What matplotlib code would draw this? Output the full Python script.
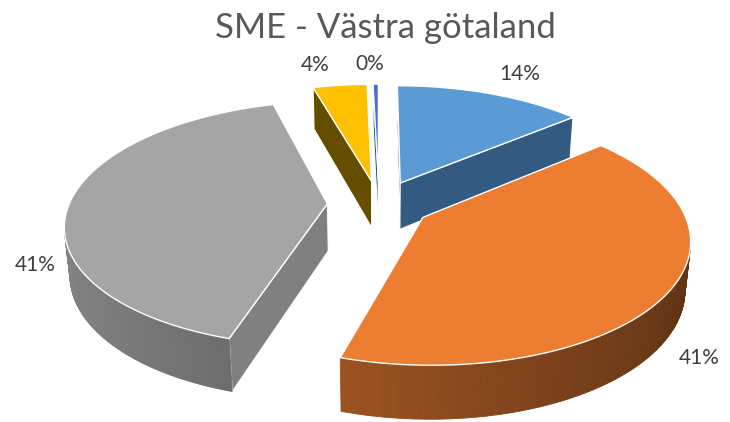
"""
3D exploded pie, SME - Västra götaland.
Drawn by hand: each slice is projected with a simple perspective camera,
then painted far-to-near (sides first, top face last).
"""
import numpy as np
import matplotlib
matplotlib.use('Agg')
import matplotlib.pyplot as plt
from matplotlib.patches import Polygon

TITLE = 'SME - Västra götaland'
SHARES = [13.9, 40.8, 40.9, 4.0, 0.4]        # percent, clockwise from 12 o'clock
TOP_COLORS = ['#5B9BD5', '#ED7D31', '#A5A5A5', '#FFC000', '#4472C4']
FACE_COLORS = ['#335A80', '#7A3F16', '#808080', '#654D00', '#2E4E87']

# camera / geometry (world radius = 1)
EXPLODE = 0.20
HEIGHT = 0.21
ELEV = np.radians(27.5)
DIST = 5.5
FOCAL = 1420.0
W, H = 730, 422
CX, CY = 379, 204          # where the pie centre lands (pixels)

S, C = np.sin(ELEV), np.cos(ELEV)
CAM = np.array([0.0, -DIST * C, DIST * S])


def project(x, y, z):
    d = DIST + y * C - z * S
    return FOCAL * x / d, FOCAL * (y * S + z * C) / d


def rim(off, th, z):
    return off[0] + np.sin(th), off[1] + np.cos(th), z


def facing(normal, point):
    return np.dot(normal, CAM - np.asarray(point)) > 0


def shade(color, k):
    rgb = np.array(matplotlib.colors.to_rgb(color))
    return tuple(np.clip(rgb * k, 0, 1))


fig = plt.figure(figsize=(W / 100, H / 100), dpi=100)
ax = fig.add_axes([0, 0, 1, 1])
ax.set_xlim(-CX, W - CX)
ax.set_ylim(-(H - CY), CY)
ax.axis('off')

shares = np.array(SHARES)
edges = np.concatenate([[0], np.cumsum(shares) / shares.sum() * 2 * np.pi])
mids = (edges[:-1] + edges[1:]) / 2

# far slices first
order = np.argsort(-np.cos(mids))
for i in order:
    t0, t1, m = edges[i], edges[i + 1], mids[i]
    off = np.array([EXPLODE * np.sin(m), EXPLODE * np.cos(m)])

    # radial faces
    for th, sign in [(t0, -1), (t1, 1)]:
        n = sign * np.array([np.cos(th), -np.sin(th), 0.0])
        mid_pt = [off[0] + 0.5 * np.sin(th), off[1] + 0.5 * np.cos(th), -HEIGHT / 2]
        if not facing(n, mid_pt):
            continue
        pts = [project(off[0], off[1], 0), project(*rim(off, th, 0)),
               project(*rim(off, th, -HEIGHT)), project(off[0], off[1], -HEIGHT)]
        ax.add_patch(Polygon(pts, closed=True, facecolor=FACE_COLORS[i],
                             edgecolor='white', lw=0.8, zorder=2))

    # curved outer side, strip by strip for the gradient
    ths = np.linspace(t0, t1, max(int((t1 - t0) / 0.01), 2))
    for a, b in zip(ths[:-1], ths[1:]):
        tm = (a + b) / 2
        n = np.array([np.sin(tm), np.cos(tm), 0.0])
        if not facing(n, rim(off, tm, -HEIGHT / 2)):
            continue
        k = 0.6 - 0.2 * np.sin(tm)
        col = shade(TOP_COLORS[i], k)
        pts = [project(*rim(off, a, 0)), project(*rim(off, b, 0)),
               project(*rim(off, b, -HEIGHT)), project(*rim(off, a, -HEIGHT))]
        ax.add_patch(Polygon(pts, closed=True, facecolor=col, edgecolor=col,
                             lw=0.6, zorder=2))

    # top face
    pts = [project(off[0], off[1], 0)] + [project(*rim(off, t, 0)) for t in ths]
    ax.add_patch(Polygon(pts, closed=True, facecolor=TOP_COLORS[i],
                         edgecolor='white', lw=1.0, zorder=3))

# data labels, just outside the slice: far ones above the top face,
# near ones beside the lower edge of the side wall
for i, m in enumerate(mids):
    off = np.array([EXPLODE * np.sin(m), EXPLODE * np.cos(m)])
    far = np.cos(m) > 0.5
    x, y = project(*rim(off, m, 0 if far else -HEIGHT))
    x += 22 * np.tanh(np.sin(m) / 0.05) + 18 * np.sin(m)
    y += 20 if far else -15
    ax.text(x, y, f'{SHARES[i]:.0f}%', ha='center', va='center',
            fontsize=15, family='Lato', color='#404040', zorder=5)

fig.text(385 / W, 1 - 38 / H, TITLE, ha='center', va='baseline',
         fontsize=25, family='Lato', color='#595959')

fig.savefig('out.png', dpi=100)
